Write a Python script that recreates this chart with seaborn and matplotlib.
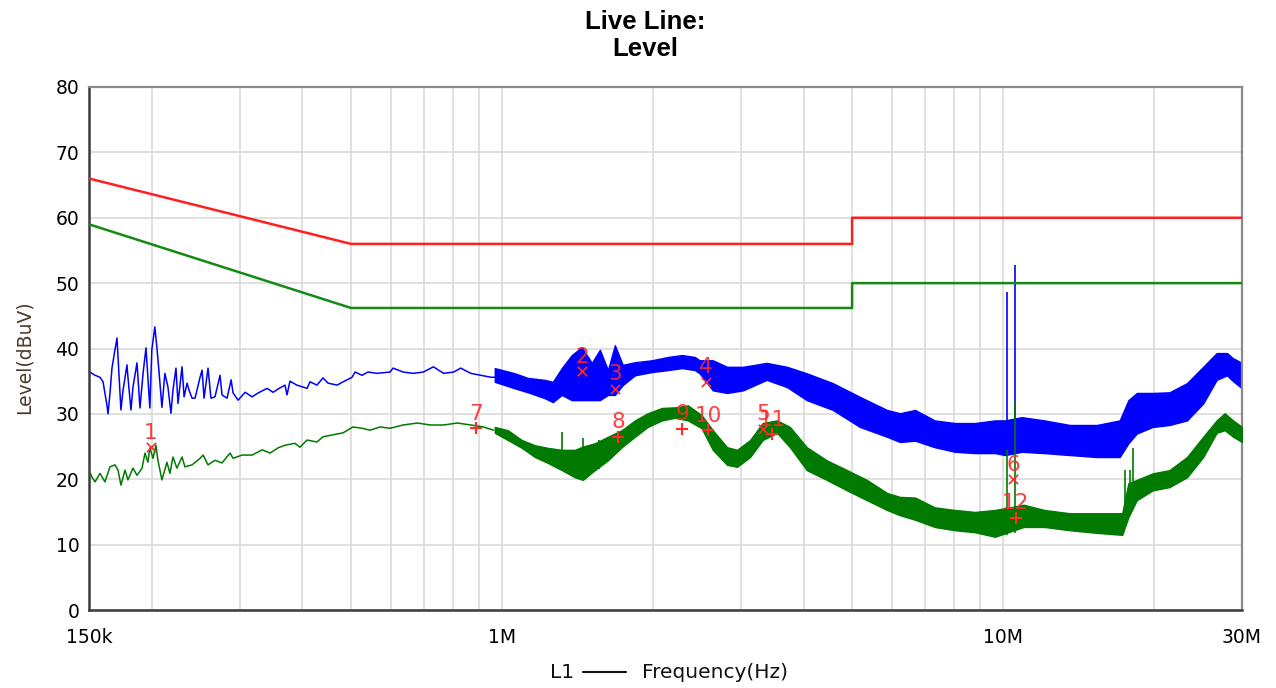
import numpy as np
import pandas as pd
import matplotlib
matplotlib.use("Agg")
import matplotlib.pyplot as plt
import seaborn as sns
from matplotlib.lines import Line2D

# ---------------- data (frequency in MHz, level in dBuV) ----------------
qp_limit_f = [0.15, 0.5, 5.0, 5.0, 30.0]
qp_limit_v = [66.0, 56.0, 56.0, 60.0, 60.0]
av_limit_f = [0.15, 0.5, 5.0, 5.0, 30.0]
av_limit_v = [59.0, 46.2, 46.2, 50.0, 50.0]

# peak trace, low-frequency part (single line)
blue_line_f = [0.150, 0.1542, 0.1578, 0.160, 0.1629, 0.1637, 0.1652, 0.1667, 0.1690, 0.1706,
               0.1714, 0.1737, 0.1754, 0.1786, 0.1794, 0.1819, 0.1836, 0.1870, 0.1896, 0.1923,
               0.1949, 0.1966, 0.1984, 0.2002, 0.2030, 0.2049, 0.2068, 0.2097, 0.2126, 0.2156,
               0.2186, 0.2206, 0.2237, 0.2258, 0.2300, 0.2322, 0.2354, 0.2376, 0.2409, 0.2442,
               0.2499, 0.2522, 0.2545, 0.2592, 0.2627, 0.2676, 0.2739, 0.2764, 0.2829, 0.2882,
               0.2908, 0.2976, 0.3074, 0.3174, 0.3263, 0.3400, 0.3495, 0.3576, 0.3692, 0.3726,
               0.3777, 0.3899, 0.4086, 0.4142, 0.4276, 0.4396, 0.4500, 0.4691, 0.4821, 0.5024,
               0.5093, 0.5259, 0.5406, 0.5634, 0.5983, 0.6066, 0.6354, 0.6656, 0.6972, 0.7302,
               0.7650, 0.8013, 0.8278, 0.8669, 0.9082, 0.9513, 0.9966]
blue_line_v = [36.5, 35.9, 35.6, 34.9, 31.3, 30.0, 33.2, 37.0, 39.8, 41.6,
               38.7, 30.6, 33.6, 37.5, 35.6, 30.6, 34.1, 37.8, 30.9, 36.2,
               40.1, 35.6, 30.9, 39.8, 43.3, 40.2, 36.7, 31.0, 36.2, 34.1,
               30.1, 33.6, 37.0, 31.6, 37.2, 32.6, 34.7, 33.6, 32.4, 32.4,
               35.6, 36.7, 32.4, 37.0, 32.4, 32.6, 35.9, 32.9, 32.4, 35.2,
               33.2, 32.1, 33.3, 32.6, 33.2, 33.9, 33.3, 33.8, 34.4, 32.9,
               35.0, 34.4, 33.9, 34.9, 34.4, 35.5, 34.7, 34.4, 34.9, 35.6,
               36.4, 35.9, 36.4, 36.2, 36.4, 37.0, 36.4, 36.2, 36.4, 37.2,
               36.2, 36.4, 37.0, 36.2, 35.9, 35.6, 35.6]

# peak trace, dense part (envelope of the noise band)
blue_band_f = [0.968, 1.062, 1.127, 1.218, 1.264, 1.317, 1.379, 1.444, 1.512, 1.569,
               1.628, 1.681, 1.743, 1.843, 1.993, 2.145, 2.288, 2.428, 2.481, 2.636,
               2.815, 3.030, 3.376, 3.707, 4.060, 4.578, 5.183, 5.870, 6.230, 6.680,
               7.310, 8.020, 8.790, 9.640, 10.10, 10.90, 12.10, 13.60, 15.40, 17.10,
               17.80, 18.50, 19.90, 21.50, 23.30, 25.10, 26.70, 28.00, 28.80, 30.00]
blue_band_hi = [37.0, 36.2, 35.5, 35.2, 34.9, 37.0, 39.0, 40.2, 37.8, 39.8,
                36.7, 40.5, 37.5, 37.9, 38.2, 38.7, 39.0, 38.7, 38.2, 38.2,
                37.2, 37.2, 37.8, 37.2, 36.2, 34.7, 32.6, 30.6, 30.1, 30.6,
                29.0, 28.6, 28.6, 29.0, 29.0, 29.5, 29.0, 28.3, 28.3, 29.0,
                32.1, 33.2, 33.2, 33.3, 34.7, 37.2, 39.3, 39.3, 38.5, 37.8]
blue_band_lo = [34.9, 33.9, 33.3, 32.4, 31.8, 32.9, 32.1, 32.1, 32.1, 32.1,
                32.9, 32.9, 34.4, 35.9, 36.4, 36.7, 37.0, 36.7, 36.2, 33.6,
                33.2, 33.6, 35.2, 34.1, 32.1, 30.6, 28.0, 26.5, 25.7, 25.9,
                24.9, 24.2, 24.0, 24.0, 23.7, 24.2, 24.0, 23.7, 23.4, 23.4,
                25.5, 27.0, 28.0, 28.3, 29.0, 31.6, 35.2, 35.9, 35.0, 33.9]
blue_spike_f = [10.19, 10.57]
blue_spike_lo = [26.0, 26.0]
blue_spike_hi = [48.6, 52.7]

# average trace, low-frequency part
green_line_f = [0.150, 0.1521, 0.1542, 0.1578, 0.1614, 0.1652, 0.1690, 0.1714, 0.1737, 0.1770,
                0.1794, 0.1836, 0.1870, 0.1914, 0.1940, 0.1966, 0.1984, 0.2013, 0.2040, 0.2059,
                0.2097, 0.2146, 0.2176, 0.2206, 0.2247, 0.2300, 0.2331, 0.2409, 0.2499, 0.2534,
                0.2592, 0.2676, 0.2764, 0.2868, 0.2908, 0.3031, 0.3174, 0.3324, 0.3448, 0.3576,
                0.3692, 0.3864, 0.3954, 0.4086, 0.4276, 0.4396, 0.4605, 0.4821, 0.5047, 0.5259,
                0.5457, 0.5712, 0.5983, 0.6354, 0.678, 0.720, 0.7650, 0.815, 0.8669, 0.9186,
                0.9629]
green_line_v = [21.4, 20.3, 19.6, 20.9, 19.6, 21.9, 22.2, 21.4, 19.1, 21.4,
                19.9, 21.7, 20.6, 21.7, 24.0, 22.6, 24.8, 23.2, 25.2, 22.9,
                19.9, 22.6, 20.9, 23.4, 21.7, 23.4, 21.9, 22.2, 23.2, 23.7,
                22.2, 22.9, 22.5, 24.0, 23.2, 23.7, 23.7, 24.5, 24.0, 24.8,
                25.2, 25.5, 24.9, 26.0, 25.7, 26.5, 26.8, 27.1, 28.0, 27.8,
                27.5, 28.0, 27.8, 28.3, 28.6, 28.3, 28.3, 28.6, 28.3, 28.0,
                27.5]

green_band_f = [0.968, 1.028, 1.096, 1.164, 1.235, 1.317, 1.399, 1.451, 1.533, 1.628,
                1.735, 1.843, 1.955, 2.086, 2.216, 2.352, 2.504, 2.636, 2.815, 2.947,
                3.129, 3.315, 3.541, 3.758, 4.060, 4.450, 4.884, 5.352, 5.870, 6.230,
                6.680, 7.310, 8.020, 8.790, 9.640, 11.00, 12.10, 13.60, 15.40, 17.30,
                17.80, 18.50, 19.90, 21.50, 23.30, 25.10, 26.70, 27.70, 28.80, 30.00]
green_band_hi = [28.0, 27.5, 26.0, 25.2, 24.8, 24.5, 24.5, 25.0, 25.5, 26.5,
                 27.5, 29.0, 30.1, 30.9, 31.0, 31.3, 29.8, 27.5, 24.9, 24.5,
                 26.0, 28.6, 29.0, 28.0, 24.9, 22.9, 21.4, 19.9, 17.9, 17.3,
                 17.2, 15.7, 15.3, 15.0, 15.3, 16.1, 15.3, 14.8, 14.8, 14.8,
                 19.4, 19.9, 20.9, 21.4, 23.4, 26.5, 29.0, 30.1, 29.0, 28.0]
green_band_lo = [27.1, 26.0, 24.8, 23.4, 22.5, 21.4, 20.3, 19.9, 21.4, 22.9,
                 24.9, 26.5, 28.0, 29.0, 29.4, 29.0, 27.8, 24.5, 22.2, 21.9,
                 23.4, 26.0, 27.1, 24.9, 21.4, 19.9, 18.3, 16.8, 15.3, 14.5,
                 13.8, 12.7, 12.2, 11.9, 11.2, 12.7, 12.7, 12.2, 11.8, 11.5,
                 14.2, 16.8, 18.3, 18.8, 20.3, 23.4, 27.1, 27.5, 26.5, 25.7]
green_spike_f = [1.32, 1.45, 1.56, 10.19, 10.57, 17.5, 17.9, 18.2]
green_spike_lo = [22.0, 21.0, 21.5, 11.5, 11.8, 13.5, 14.5, 16.0]
green_spike_hi = [27.2, 26.3, 26.0, 24.5, 32.0, 21.4, 21.4, 24.8]

# markers
peak_mark_f = [0.199, 1.445, 1.68, 2.55, 3.32, 10.47]
peak_mark_v = [24.9, 36.5, 33.8, 34.9, 27.7, 20.0]
peak_mark_lbl = ["1", "2", "3", "4", "5", "6"]
avg_mark_f = [0.887, 1.706, 2.29, 2.58, 3.46, 10.6]
avg_mark_v = [27.8, 26.5, 27.7, 27.5, 26.9, 14.1]
avg_mark_lbl = ["7", "8", "9", "10", "11", "12"]

x_ticks = [0.15, 1.0, 10.0, 30.0]
x_tick_labels = ["150k", "1M", "10M", "30M"]
x_minor = [0.2, 0.3, 0.4, 0.5, 0.6, 0.7, 0.8, 0.9, 2, 3, 4, 5, 6, 7, 8, 9, 20]
y_ticks = [0, 10, 20, 30, 40, 50, 60, 70, 80]

# ---------------- styling ----------------
sns.set_style("white")
plt.rcParams["font.family"] = ["DejaVu Sans"]
plt.rcParams["text.color"] = "black"

W, H = 1276, 688
fig = plt.figure(figsize=(W / 100, H / 100), dpi=100)
ax = fig.add_axes([89 / W, 1 - 610 / H, (1242 - 89) / W, (610 - 87) / H])

BLUE = "#0000ff"
GREEN = "#007a00"
RED_LIM = "#ff1f1f"
GREEN_LIM = "#138a13"
MARK = "#ff2a2a"

ax.set_xscale("log")
ax.set_xlim(0.15, 30)
ax.set_ylim(0, 80)

ax.set_xticks(x_minor, minor=True)
ax.set_xticks(x_ticks)
ax.set_xticklabels(x_tick_labels)
ax.set_yticks(y_ticks)
ax.tick_params(axis="x", which="minor", length=0)
ax.tick_params(axis="x", which="major", length=7, width=1.2, color="#222222",
               labelsize=13.5, labelcolor="black", pad=6, direction="out")
ax.tick_params(axis="y", length=5, width=1.2, color="#222222", labelsize=13.5,
               labelcolor="black", pad=2, direction="out")
ax.grid(True, which="both", color="#dadada", linewidth=1.2)
ax.set_axisbelow(True)
for s in ["left", "bottom"]:
    ax.spines[s].set_color("#3c3c3c")
    ax.spines[s].set_linewidth(1.8)
for s in ["top", "right"]:
    ax.spines[s].set_color("#8a8a8a")
    ax.spines[s].set_linewidth(1.6)
    ax.spines[s].set_visible(True)

# ---------------- traces ----------------
ax.fill_between(blue_band_f, blue_band_lo, blue_band_hi, color=BLUE, linewidth=1.0,
                edgecolor=BLUE, zorder=2)
sns.lineplot(x=blue_line_f, y=blue_line_v, ax=ax, color=BLUE, linewidth=1.1,
             estimator=None, sort=False, zorder=2)
ax.vlines(blue_spike_f, blue_spike_lo, blue_spike_hi, color=BLUE, linewidth=1.2, zorder=2)

ax.fill_between(green_band_f, green_band_lo, green_band_hi, color=GREEN, linewidth=1.0,
                edgecolor=GREEN, zorder=3)
sns.lineplot(x=green_line_f, y=green_line_v, ax=ax, color=GREEN, linewidth=1.1,
             estimator=None, sort=False, zorder=3)
ax.vlines(green_spike_f, green_spike_lo, green_spike_hi, color=GREEN, linewidth=1.2, zorder=3)

# limits
sns.lineplot(x=qp_limit_f, y=qp_limit_v, ax=ax, color=RED_LIM, linewidth=1.8,
             estimator=None, sort=False, zorder=4)
sns.lineplot(x=av_limit_f, y=av_limit_v, ax=ax, color=GREEN_LIM, linewidth=1.8,
             estimator=None, sort=False, zorder=4)

# markers
sns.scatterplot(x=peak_mark_f, y=peak_mark_v, ax=ax, marker="x", s=45, color=MARK,
                linewidth=1.2, zorder=6)
sns.scatterplot(x=avg_mark_f, y=avg_mark_v, ax=ax, marker="+", s=70, color=MARK,
                linewidth=1.5, zorder=6)
for f, v, t in list(zip(peak_mark_f, peak_mark_v, peak_mark_lbl)) + \
        list(zip(avg_mark_f, avg_mark_v, avg_mark_lbl)):
    ax.annotate(t, (f, v), xytext=(0, 10.5), textcoords="offset points",
                ha="center", va="center", color=MARK, fontsize=15.5, alpha=0.9, zorder=7)

ax.set_xlabel("")
ax.set_ylabel("")
if ax.get_legend() is not None:
    ax.get_legend().remove()

# ---------------- texts ----------------
fig.text(645 / W, 1 - 35.5 / H, "Live Line:\nLevel", ha="center", va="center",
         fontsize=18.5, fontweight="bold", family=["Liberation Sans", "DejaVu Sans"],
         linespacing=1.2, color="black")
fig.text(24 / W, 1 - 357 / H, "Level(dBuV)", rotation=90, ha="center", va="center",
         fontsize=13.5, color="#4a3a2c")
fig.text(574 / W, 1 - 672 / H, "L1", ha="right", va="center", fontsize=14.5, color="#111111")
fig.add_artist(Line2D([583 / W, 626 / W], [1 - 672 / H, 1 - 672 / H],
                      transform=fig.transFigure, color="#111111", linewidth=1.5))
fig.text(642 / W, 1 - 672 / H, "Frequency(Hz)", ha="left", va="center", fontsize=14.5,
         color="#111111")

fig.savefig("out.png", dpi=100)
